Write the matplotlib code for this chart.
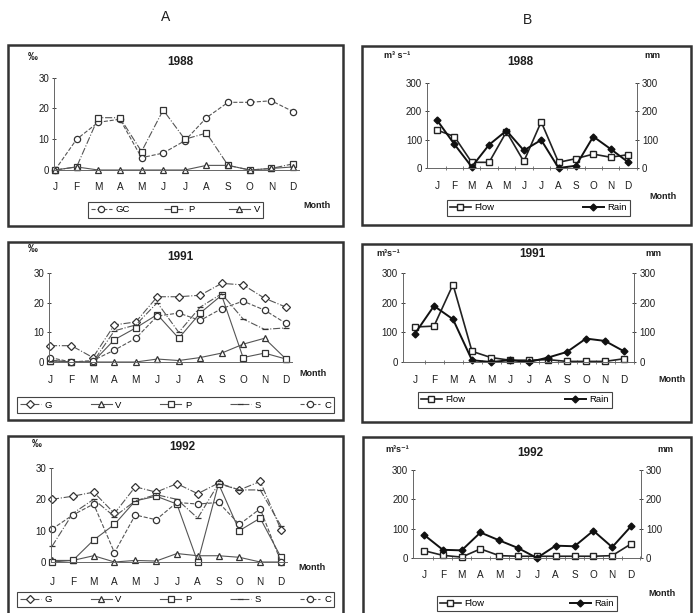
import numpy as np
import matplotlib
matplotlib.use("Agg")
import matplotlib.pyplot as plt
from matplotlib.patches import Rectangle

plt.rcParams['font.family'] = ['Liberation Sans', 'DejaVu Sans']

months = ["J", "F", "M", "A", "M", "J", "J", "A", "S", "O", "N", "D"]

# Column A: per mille values by group
gc_88 = [0, 10, 15.5, 16.5, 4, 5.5, 9.5, 17, 22, 22, 22.5, 19]
p_88 = [0, 1, 17, 17, 6, 19.5, 10, 12, 1.5, 0, 0.5, 2]
v_88 = [0, 1, 0, 0, 0, 0, 0, 1.5, 1.5, 0, 0.5, 1]

g_91 = [5.5, 5.5, 1.5, 12.5, 13.5, 22, 22, 22.5, 26.5, 26, 21.5, 18.5]
v_91 = [0.5, 0, 0, 0, 0, 1, 0.5, 1.5, 3, 6, 8, 1]
p_91 = [0.5, 0, 0, 7.5, 11.5, 16, 8, 16.5, 22.5, 1.5, 3, 1]
s_91 = [0.5, 0, 0, 10.5, 12.5, 20, 10, 18.5, 23, 14.5, 11, 11.5]
c_91 = [1.5, 0, 0.5, 4, 8, 15.5, 16.5, 14, 18, 20.5, 17.5, 13]

g_92 = [20, 21, 22.3, 15.5, 24, 22.3, 25, 21.8, 25.2, 23, 25.7, 10.3]
v_92 = [0.5, 0.5, 2, 0, 0.5, 0.3, 2.7, 2, 2, 1.5, 0, 0]
p_92 = [0, 0.5, 7, 12, 19.5, 21, 18.5, 0, 25, 10, 14, 1.5]
s_92 = [5, 15.5, 20, 14.5, 19.5, 21.5, 20, 14, 25, 23, 23, 11.5]
c_92 = [10.5, 15, 18.5, 3, 15, 13.5, 19, 18.5, 19, 12, 17, 0]

# Column B: flow (m3/s) and rain (mm)
flow_88 = [134, 111, 20, 20, 128, 23, 163, 20, 33, 49, 38, 47]
rain_88 = [169, 84, 4, 82, 132, 62, 99, 0, 8, 111, 67, 21]
flow_91 = [118, 121, 261, 36, 15, 6, 6, 8, 2, 2, 2, 11]
rain_91 = [96, 189, 144, 6, 0, 6, 0, 15, 34, 79, 71, 36]
flow_92 = [25, 9, 3, 31, 8, 6, 6, 6, 6, 6, 8, 48]
rain_92 = [79, 28, 26, 87, 60, 34, 0, 42, 40, 93, 37, 108]

W, H = 693, 613
fig = plt.figure(figsize=(6.93, 6.13), dpi=100)
x = np.arange(12)
ink = "#1e1e1e"


def ftext(px, py, s, **kw):
    fig.text(px / W, 1 - py / H, s, color=ink, ha="center", va="center", **kw)


def frame(x0, y0, x1, y1):
    fig.patches.append(Rectangle((x0 / W, 1 - y1 / H), (x1 - x0) / W, (y1 - y0) / H,
                                 transform=fig.transFigure, fill=False, lw=1.8, ec="#333333"))


def panel(xj, xd, y0, ytop, ymax, lo, hi, right=False, lab_off=17):
    u = (xd - xj) / 11
    left = xj + lo * u
    ax = fig.add_axes([left / W, 1 - y0 / H, (hi - lo) * u / W, (y0 - ytop) / H])
    ax.set_xlim(lo, hi)
    ax.set_ylim(0, ymax)
    ax.patch.set_alpha(0)
    ax.spines["top"].set_visible(False)
    ax.spines["right"].set_visible(right)
    for s in ["left", "right", "bottom"]:
        ax.spines[s].set_color("#666666")
        ax.spines[s].set_linewidth(0.7)
    ax.set_xticks(x)
    ax.set_xticklabels(months)
    ax.tick_params(axis="x", length=0, pad=(lab_off - 5) * 0.72, labelsize=7.2, colors=ink)
    if right:
        ax.set_xticks(x + 0.5, minor=True)
        ax.tick_params(axis="x", which="minor", direction="inout", length=3, width=0.6, color="#666666")
    ax.set_yticks(np.linspace(0, ymax, 4))
    ax.tick_params(axis="y", direction="inout", length=3, width=0.6, labelsize=7,
                   pad=2, colors=ink, right=right, labelright=right)
    return ax


def legend(handles, labels, x0, y0, x1, y1):
    lg = fig.legend(handles, labels, loc="center", bbox_to_anchor=(x0 / W, 1 - y1 / H, (x1 - x0) / W, (y1 - y0) / H),
                    mode="expand", ncol=len(labels), fancybox=False, edgecolor="#444444", fontsize=6.8,
                    handlelength=2.2, borderpad=0.35, handletextpad=0.4, framealpha=1)
    lg.get_frame().set_linewidth(0.8)


def series(ax, vals, marker, ls, ms=4.5):
    return ax.plot(x, vals, ls=ls, lw=0.8, color="#555555", marker=marker, ms=ms,
                   mfc="white", mec="#333333", mew=0.9, clip_on=False)[0]


def flow_rain(ax, flow, rain):
    h1 = ax.plot(x, flow, color="#222222", lw=1.2, marker="s", ms=4.5, mfc="white", mec="#222222", clip_on=False)[0]
    h2 = ax.plot(x, rain, color="#111111", lw=1.4, marker="D", ms=3.5, mfc="#111111", mec="#111111", clip_on=False)[0]
    return [h1, h2]


# panel frames
frame(8, 45, 343, 226)
frame(362, 46, 691, 225)
frame(8, 242, 343, 420)
frame(362, 244, 691, 422)
frame(8, 436, 343, 616)
frame(363, 437, 691, 616)

ftext(166, 17, "A", fontsize=10)
ftext(528, 20, "B", fontsize=10)

# ---- A 1988
ax = panel(55, 293, 170, 77.7, 30, -0.05, 11.3, lab_off=17)
h = [series(ax, gc_88, "o", "--"), series(ax, p_88, "s", "-."), series(ax, v_88, "^", "-")]
legend(h, ["GC", "P", "V"], 83, 200, 268, 220)
ftext(180, 62, "1988", fontsize=8.5, fontweight="bold")
ftext(33, 57, "‰", fontsize=7, fontweight="bold")
ftext(317, 205, "Month", fontsize=6.5, fontweight="bold")

# ---- A 1991
ax = panel(50, 286, 362, 273, 30, -0.05, 11.3, lab_off=18)
h = [series(ax, g_91, "D", "-.", 3.8), series(ax, v_91, "^", "-"), series(ax, p_91, "s", "-"),
     series(ax, s_91, "_", "-.", 4), series(ax, c_91, "o", "--")]
legend(h, ["G", "V", "P", "S", "C"], 12, 395, 339, 415)
ftext(180, 257, "1991", fontsize=8.5, fontweight="bold")
ftext(33, 249, "‰", fontsize=7, fontweight="bold")
ftext(313, 373, "Month", fontsize=6.5, fontweight="bold")

# ---- A 1992
ax = panel(52, 281, 562, 468, 30, -0.05, 11.3, lab_off=20)
h = [series(ax, g_92, "D", "-.", 3.8), series(ax, v_92, "^", "-"), series(ax, p_92, "s", "-"),
     series(ax, s_92, "_", "-.", 4), series(ax, c_92, "o", "--")]
legend(h, ["G", "V", "P", "S", "C"], 12, 590, 339, 609)
ftext(182, 447, "1992", fontsize=8.5, fontweight="bold")
ftext(37, 444, "‰", fontsize=7, fontweight="bold")
ftext(312, 567, "Month", fontsize=6.5, fontweight="bold")

# ---- B 1988
ax = panel(437, 628, 168, 83, 300, -0.58, 11.52, right=True, lab_off=18)
legend(flow_rain(ax, flow_88, rain_88), ["Flow", "Rain"], 442, 198, 635, 218)
ftext(520, 62, "1988", fontsize=8.5, fontweight="bold")
ftext(397, 55, "m³ s⁻¹", fontsize=6.5, fontweight="bold")
ftext(652, 55, "mm", fontsize=6.5, fontweight="bold")
ftext(663, 197, "Month", fontsize=6.5, fontweight="bold")

# ---- B 1991
ax = panel(415, 624, 362, 273, 300, -0.65, 11.55, right=True, lab_off=18)
legend(flow_rain(ax, flow_91, rain_91), ["Flow", "Rain"], 413, 390, 617, 410)
ftext(532, 254, "1991", fontsize=8.5, fontweight="bold")
ftext(388, 254, "m³s⁻¹", fontsize=6.5, fontweight="bold")
ftext(653, 254, "mm", fontsize=6.5, fontweight="bold")
ftext(672, 380, "Month", fontsize=6.5, fontweight="bold")

# ---- B 1992
ax = panel(424, 631, 558, 470, 300, -0.58, 11.53, right=True, lab_off=17)
legend(flow_rain(ax, flow_92, rain_92), ["Flow", "Rain"], 432, 595, 622, 612)
ftext(530, 453, "1992", fontsize=8.5, fontweight="bold")
ftext(397, 449, "m³s⁻¹", fontsize=6.5, fontweight="bold")
ftext(665, 449, "mm", fontsize=6.5, fontweight="bold")
ftext(662, 593, "Month", fontsize=6.5, fontweight="bold")

fig.savefig("out.png", dpi=100)
